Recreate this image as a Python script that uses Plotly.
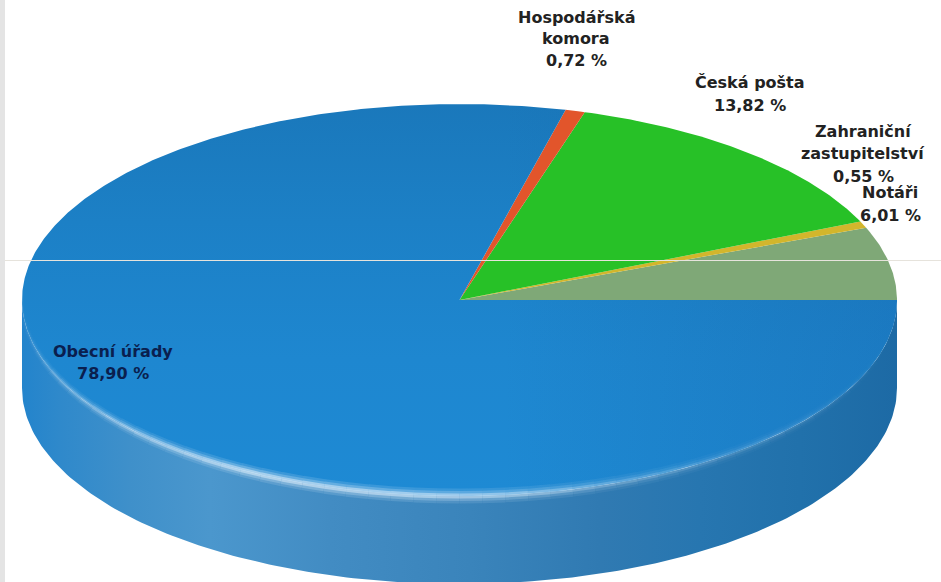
import numpy as np
import plotly.graph_objects as go

# Data, counter-clockwise from the east edge of the pie
categories = ["Notáři", "Zahraniční<br>zastupitelství", "Česká pošta", "Hospodářská<br>komora", "Obecní úřady"]
values = [6.01, 0.55, 13.82, 0.72, 78.90]
slice_colors = ["#7fa877", "#d2b62c", "#27c127", "#e2552b", "#1e84cc"]
label_colors = ["#222222", "#222222", "#222222", "#222222", "#0a1f4f"]
label_px = [(890, 193), (863, 132), (750, 83), (576, 17), (113, 351)]

W, H = 941, 582
CX, CY, RX, RY, DEPTH = 459.5, 300, 437.5, 196, 88
LINE_PX = 22

# Unit-ellipse axes: the pie is drawn in value-derived angles through these ranges
x_range = [-CX / RX, (W - CX) / RX]
y_range = [-(H - CY) / RY, CY / RY]
depth = DEPTH / RY

fig = go.Figure()

# Side wall
t = np.linspace(np.pi, 2 * np.pi, 200)
wall_x = np.concatenate([np.cos(t), np.cos(t[::-1])])
wall_y = np.concatenate([np.sin(t), np.sin(t[::-1]) - depth])
wall_stops = [(22, "#2384cc"), (60, "#2f89cb"), (130, "#3f90ca"), (210, "#4b97cd"),
              (330, "#428cc3"), (470, "#3a84bb"), (600, "#307ab2"), (700, "#2776b0"),
              (800, "#2171ab"), (897, "#1d6aa5")]
fig.add_trace(go.Scatter(
    x=wall_x, y=wall_y, mode="lines", fill="toself", line=dict(width=0),
    fillgradient=dict(type="horizontal", start=-1, stop=1,
                      colorscale=[[(p - 22) / 875, c] for p, c in wall_stops]),
    hoverinfo="skip"))

# Top face slices
edges = np.concatenate([[0], np.cumsum(values)]) / sum(values) * 2 * np.pi
for i, v in enumerate(values):
    a = np.linspace(edges[i], edges[i + 1], max(3, int(v * 8)))
    px_ = np.concatenate([[0], np.cos(a), [0]])
    py_ = np.concatenate([[0], np.sin(a), [0]])
    kw = dict(x=px_, y=py_, mode="lines", fill="toself", line=dict(width=0), hoverinfo="skip")
    if i == 4:
        fig.add_trace(go.Scatter(**kw, fillgradient=dict(
            type="vertical", start=-1, stop=1,
            colorscale=[[0, "#1e8ad4"], [0.35, "#1e87d0"], [0.7, "#1c80c6"], [1, "#1a78bb"]])))
        fig.add_trace(go.Scatter(**kw, fillgradient=dict(
            type="horizontal", start=-1, stop=1,
            colorscale=[[0, "rgba(20,90,150,0)"], [0.55, "rgba(20,90,150,0)"], [1, "rgba(20,90,160,0.28)"]])))
    else:
        fig.add_trace(go.Scatter(**kw, fillcolor=slice_colors[i]))

# Rim highlight
rim_px = [22, 60, 150, 250, 400, 500, 600, 700, 800, 897]
rim_alpha = [0.05, 0.3, 0.6, 0.85, 0.8, 0.65, 0.35, 0.2, 0.12, 0.0]
seg = np.linspace(np.pi, 2 * np.pi, 61)
for w, k in [(15, 0.2), (10, 0.35), (5, 0.75)]:
    for a0, a1 in zip(seg[:-1], seg[1:]):
        mid = (a0 + a1) / 2
        al = np.interp(CX + RX * np.cos(mid), rim_px, rim_alpha) * k
        sa = np.linspace(a0, a1, 4)
        fig.add_trace(go.Scatter(
            x=np.cos(sa), y=np.sin(sa), mode="lines", hoverinfo="skip",
            line=dict(color=f"rgba(205,228,246,{al:.3f})", width=w * (0.3 + 0.7 * abs(np.sin(mid))))))

# Labels, one annotation per line for the wide line spacing
annotations = []
for cat, v, col, (lx, ly) in zip(categories, values, label_colors, label_px):
    lines = cat.split("<br>") + [f"{v:.2f}".replace(".", ",") + " %"]
    for n, line in enumerate(lines):
        annotations.append(dict(
            x=lx / W, y=1 - (ly + n * LINE_PX) / H, xref="paper", yref="paper",
            xanchor="center", yanchor="middle", showarrow=False, text=line,
            font=dict(family="DejaVu Sans", size=16, color=col, weight="bold")))

shapes = [
    dict(type="rect", xref="paper", yref="paper", x0=0, x1=5 / W, y0=0, y1=1,
         fillcolor="#e4e4e4", line_width=0, layer="above"),
    dict(type="line", xref="paper", yref="paper", x0=5 / W, x1=1, y0=1 - 260.5 / H, y1=1 - 260.5 / H,
         line=dict(color="#e6e3dc", width=1), layer="above"),
]

fig.update_layout(
    width=W, height=H, margin=dict(l=0, r=0, t=0, b=0), showlegend=False,
    paper_bgcolor="white", plot_bgcolor="white",
    xaxis=dict(visible=False, range=x_range, fixedrange=True),
    yaxis=dict(visible=False, range=y_range, fixedrange=True),
    annotations=annotations, shapes=shapes)

fig.write_html("out.html", config=dict(displayModeBar=False),
               post_script="document.body.style.margin='0';")
